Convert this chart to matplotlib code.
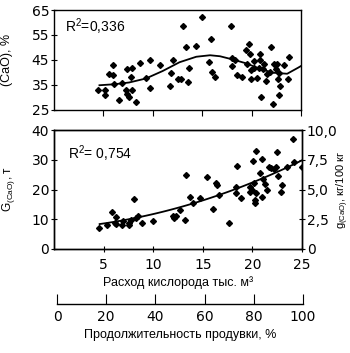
import numpy as np
import matplotlib.pyplot as plt

# =============================================================================
# Data
# =============================================================================

# Top panel: (CaO), % vs oxygen consumption
o2_top = [4.5, 5.2, 5.2, 5.96, 5.6, 6.0, 6.1, 6.6, 6.9, 7.4, 7.3, 7.4, 7.6, 7.8, 7.9, 7.9,
          8.3, 8.7, 9.3, 9.7, 9.7, 10.7, 11.7, 11.8, 12.0, 12.5, 12.9, 13.1, 13.4, 13.6,
          13.7, 14.4, 15.0, 15.7, 15.9, 16.0, 16.3, 17.9, 18.0, 18.0, 18.3, 18.5, 19.0,
          19.5, 19.7, 19.4, 19.8, 19.9, 19.9, 20.2, 20.2, 20.5, 20.7, 20.8, 20.9, 21.0,
          21.2, 21.3, 21.5, 21.6, 21.9, 22.0, 22.2, 22.3, 22.5, 22.6, 22.7, 22.8, 22.9,
          22.8, 23.3, 23.7, 23.8]
cao_top = [33.1, 33.1, 31.1, 43.0, 39.3, 38.9, 35.2, 28.8, 35.6, 41.2, 33.1, 31.3, 30.3,
           38.3, 41.9, 33.1, 28.3, 43.6, 37.7, 44.8, 33.6, 42.8, 34.6, 39.9, 44.8, 37.5,
           37.5, 58.7, 50.2, 36.0, 41.6, 50.7, 62.1, 44.1, 53.5, 40.3, 38.3, 58.7, 42.6,
           45.6, 44.8, 38.9, 38.3, 43.2, 51.5, 48.9, 47.2, 37.5, 40.8, 44.5, 41.9, 37.9,
           41.9, 47.2, 44.8, 30.0, 41.2, 43.2, 36.6, 39.3, 40.2, 50.1, 27.4, 43.2, 41.2,
           43.5, 37.3, 30.9, 34.6, 39.7, 42.8, 37.5, 46.1]

# Top panel trend line (polynomial trend)
trend_top_x = [4.6, 6.1, 7.6, 9.3, 11.0, 12.7, 14.4, 15.8, 16.8, 18.1, 19.5, 20.8,
               22.2, 23.6, 24.7, 25.0]
trend_top_y = [34.9, 35.3, 36.0, 37.6, 40.6, 44.1, 46.3, 46.9, 46.5, 45.2, 43.6, 41.5,
               39.9, 39.5, 41.9, 42.6]

# Bottom panel: G(CaO), t vs oxygen consumption
o2_bot = [4.5, 5.3, 5.8, 6.1, 6.3, 6.2, 6.9, 7.0, 7.6, 7.6, 7.8, 8.05, 8.3, 8.5, 8.9,
          10.0, 12.0, 12.1, 12.3, 12.7, 13.2, 13.3, 13.7, 14.0, 14.75, 15.4, 16.0, 16.3,
          16.4, 16.6, 17.6, 18.4, 18.3, 18.3, 18.9, 19.8, 19.8, 20.0, 20.1, 20.2, 20.3,
          20.3, 20.4, 20.4, 20.8, 21.0, 21.0, 21.1, 21.3, 21.5, 21.7, 21.9, 22.2, 22.4,
          22.5, 22.6, 22.9, 23.0, 23.5, 24.1, 24.2, 25.0]
g_bot = [7.0, 8.2, 12.3, 8.9, 10.7, 8.5, 8.2, 9.3, 8.2, 8.9, 9.8, 16.8, 10.4, 11.0, 8.9,
         9.3, 11.2, 10.4, 11.0, 13.2, 9.8, 24.9, 17.4, 15.6, 17.1, 24.1, 13.4, 22.1,
         21.6, 18.2, 8.9, 27.9, 20.8, 18.8, 17.1, 20.8, 19.3, 19.9, 29.7, 22.3, 16.5,
         15.6, 33.1, 18.8, 25.7, 17.4, 30.2, 23.5, 21.9, 19.9, 27.5, 27.2, 26.8, 27.5,
         32.7, 24.6, 19.0, 21.6, 27.5, 36.9, 29.4, 27.7]

r2_top = '0,336'
r2_bot = '0,754'

top_ticks = [25, 35, 45, 55, 65]
x_ticks = [5, 10, 15, 20, 25]
left_ticks = [0, 10, 20, 30, 40]
right_vals = [0, 2.5, 5, 7.5, 10]
right_ticks = ['0', '2,5', '5,0', '7,5', '10,0']
time_ticks = [0, 20, 40, 60, 80, 100]

# =============================================================================
# Style
# =============================================================================

plt.rcParams['font.family'] = ['Liberation Sans', 'DejaVu Sans']
plt.rcParams['mathtext.fontset'] = 'custom'
plt.rcParams['mathtext.rm'] = 'Liberation Sans'
plt.rcParams['mathtext.it'] = 'Liberation Sans'
plt.rcParams['axes.linewidth'] = 1.0

tick_font = {'family': 'DejaVu Sans', 'size': 10}
lab_fs = 9

fig = plt.figure(figsize=(3.5, 3.53), dpi=100)

W, H = 350, 353


def style_ticklabels(ax):
    for lab in ax.get_xticklabels() + ax.get_yticklabels():
        lab.set_fontfamily(tick_font['family'])
        lab.set_fontsize(tick_font['size'])


# =============================================================================
# Top panel
# =============================================================================

ax1 = fig.add_axes([54 / W, 243 / H, 247 / W, 100 / H])
ax1.plot(o2_top, cao_top, 'D', color='black', markersize=3)
ax1.plot(trend_top_x, trend_top_y, color='black', linewidth=1.3)

ax1.set_xlim(0, 25)
ax1.set_ylim(25, 65)
ax1.set_yticks(top_ticks)
ax1.set_xticks(x_ticks)
ax1.tick_params(axis='x', direction='out', length=4, labelbottom=False)
ax1.tick_params(axis='y', direction='inout', length=5, pad=1)
style_ticklabels(ax1)
ax1.set_ylabel('(CaO), %', fontsize=lab_fs)
ax1.yaxis.set_label_coords(-0.165, 0.5)
ax1.text(0.045, 0.83, 'R$^2$=' + r2_top, transform=ax1.transAxes,
         fontsize=10, ha='left', va='center')

# =============================================================================
# Bottom panel
# =============================================================================

ax2 = fig.add_axes([54 / W, 104 / H, 248 / W, 119 / H])
ax2.plot(o2_bot, g_bot, 'D', color='black', markersize=3)

coef2 = np.polyfit(o2_bot, g_bot, 2)
xs2 = np.linspace(4.6, 25, 100)
ax2.plot(xs2, np.polyval(coef2, xs2), color='black', linewidth=1.3)

ax2.set_xlim(0, 25)
ax2.set_ylim(0, 40)
ax2.set_yticks(left_ticks)
ax2.set_xticks(x_ticks)
ax2.tick_params(axis='y', direction='inout', length=5, pad=1)
ax2.tick_params(axis='x', direction='inout', length=5, pad=4)
style_ticklabels(ax2)
ax2.set_ylabel('G$_{\\mathregular{(CaO)}}$, т', fontsize=8.5)
ax2.yaxis.set_label_coords(-0.15, 0.5)
ax2.set_xlabel('Расход кислорода тыс. м³', fontsize=lab_fs, labelpad=3)
ax2.text(0.055, 0.80, 'R$^2$= ' + r2_bot, transform=ax2.transAxes,
         fontsize=10, ha='left', va='center')

ax2r = ax2.twinx()
ax2r.set_ylim(0, 10)
ax2r.set_yticks(right_vals)
ax2r.set_yticklabels(right_ticks)
ax2r.tick_params(axis='y', direction='inout', length=5, pad=1)
style_ticklabels(ax2r)
ax2r.set_ylabel('g$_{\\mathregular{(CaO)}}$, кг/100 кг', fontsize=8)
ax2r.yaxis.set_label_coords(1.13, 0.5)

# =============================================================================
# Blowing duration axis
# =============================================================================

ax3 = fig.add_axes([57 / W, 49 / H, 246 / W, 0.001])
ax3.set_xlim(0, 100)
ax3.set_xticks(time_ticks)
ax3.set_yticks([])
for s in ['top', 'left', 'right']:
    ax3.spines[s].set_visible(False)
ax3.patch.set_visible(False)
ax3.tick_params(axis='x', direction='in', length=7, pad=4)
style_ticklabels(ax3)
ax3.set_xlabel('Продолжительность продувки, %', fontsize=lab_fs, labelpad=4)

plt.savefig('out.png', dpi=100)
